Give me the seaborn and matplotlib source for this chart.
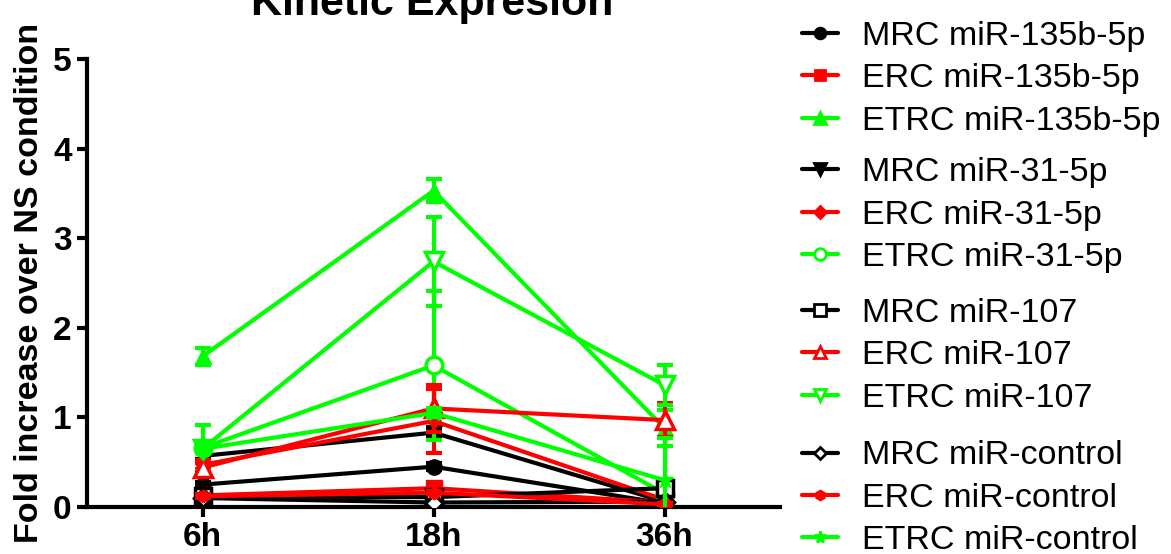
import numpy as np
import pandas as pd
import matplotlib
matplotlib.use("Agg")
import matplotlib.pyplot as plt
from matplotlib.lines import Line2D
import seaborn as sns

sns.set_style("ticks")
plt.rcParams['font.family'] = ['Liberation Sans', 'DejaVu Sans']
plt.rcParams['text.color'] = 'black'
plt.rcParams['axes.labelcolor'] = 'black'
plt.rcParams['axes.edgecolor'] = 'black'
plt.rcParams['xtick.color'] = 'black'
plt.rcParams['ytick.color'] = 'black'

# time points
times = ['6h', '18h', '36h']

# series labels (legend order)
labels = ['MRC miR-135b-5p', 'ERC miR-135b-5p', 'ETRC miR-135b-5p',
          'MRC miR-31-5p', 'ERC miR-31-5p', 'ETRC miR-31-5p',
          'MRC miR-107', 'ERC miR-107', 'ETRC miR-107',
          'MRC miR-control', 'ERC miR-control', 'ETRC miR-control']

# mean values (6h, 18h, 36h)
mrc_135b = [0.25, 0.45, 0.04]
erc_135b = [0.13, 0.21, 0.05]
etrc_135b = [1.68, 3.53, 0.88]
mrc_31 = [0.57, 0.83, 0.06]
erc_31 = [0.47, 0.96, 0.08]
etrc_31 = [0.66, 1.58, 0.15]
mrc_107 = [0.12, 0.11, 0.21]
erc_107 = [0.44, 1.10, 0.97]
etrc_107 = [0.65, 2.74, 1.36]
mrc_ctrl = [0.10, 0.05, 0.06]
erc_ctrl = [0.12, 0.16, 0.03]
etrc_ctrl = [0.65, 1.05, 0.30]

# error (SEM)
mrc_135b_err = [0.03, 0.04, 0.01]
erc_135b_err = [0.03, 0.03, 0.01]
etrc_135b_err = [0.09, 0.13, 0.20]
mrc_31_err = [0.03, 0.05, 0.01]
erc_31_err = [0.05, 0.36, 0.02]
etrc_31_err = [0.26, 0.83, 0.05]
mrc_107_err = [0.02, 0.02, 0.02]
erc_107_err = [0.05, 0.26, 0.19]
etrc_107_err = [0.05, 0.50, 0.22]
mrc_ctrl_err = [0.01, 0.01, 0.01]
erc_ctrl_err = [0.02, 0.02, 0.01]
etrc_ctrl_err = [0.05, 0.05, 0.47]

means = [mrc_135b, erc_135b, etrc_135b, mrc_31, erc_31, etrc_31,
         mrc_107, erc_107, etrc_107, mrc_ctrl, erc_ctrl, etrc_ctrl]
errs = [mrc_135b_err, erc_135b_err, etrc_135b_err, mrc_31_err, erc_31_err, etrc_31_err,
        mrc_107_err, erc_107_err, etrc_107_err, mrc_ctrl_err, erc_ctrl_err, etrc_ctrl_err]

BLACK, RED, GREEN = '#000000', '#ff0000', '#00ff00'
colors = [BLACK, RED, GREEN] * 4
markers = ['o', 's', '^', 'v', 'D', 'o', 's', '^', 'v', 'D', 'h', '*']
filled = [True, True, True, True, True, False, False, False, False, False, True, True]
msizes = [11, 11, 12, 12, 7, 12, 12, 13, 13, 9, 9, 12]

rows = []
for lab, m, e in zip(labels, means, errs):
    for i, t in enumerate(times):
        rows.append({'series': lab, 'x': i, 'time': t, 'mean': m[i], 'err': e[i]})
df = pd.DataFrame(rows)

fig = plt.figure(figsize=(11.71, 5.54), dpi=100)
ax = fig.add_axes([87 / 1171, 1 - 507 / 554, (780 - 87) / 1171, (507 - 59) / 554])

for k, lab in enumerate(labels):
    d = df[df.series == lab]
    ax.errorbar(d['x'], d['mean'], yerr=d['err'], fmt='none', ecolor=colors[k],
                elinewidth=3, capsize=6, capthick=3, zorder=2 + k * 0.1)
    sns.lineplot(data=d, x='x', y='mean', ax=ax, color=colors[k], lw=3,
                 marker=markers[k], markersize=msizes[k],
                 markerfacecolor=colors[k] if filled[k] else 'white',
                 markeredgecolor=colors[k], markeredgewidth=2.5 if not filled[k] else 1,
                 zorder=2 + k * 0.1, legend=False)

ax.set_xlim(-0.5, 2.5)
ax.set_ylim(0, 5)
ax.set_xticks(range(len(times)))
ax.set_xticklabels(times, fontsize=24, fontweight='bold')
ax.set_yticks([0, 1, 2, 3, 4, 5])
ax.set_yticklabels(['0', '1', '2', '3', '4', '5'], fontsize=24, fontweight='bold')
ax.set_xlabel('')
ax.set_ylabel('Fold increase over NS condition', fontsize=24.5, fontweight='bold', labelpad=6)
for s in ['top', 'right']:
    ax.spines[s].set_visible(False)
for s in ['left', 'bottom']:
    ax.spines[s].set_linewidth(3)
ax.tick_params(axis='both', width=3, length=7, direction='out', pad=4)

fig.text(432 / 1171, 1 - 15 / 554, 'Kinetic Expresion', fontsize=31, fontweight='bold',
         ha='center', va='baseline')

# legend, four groups of three
legend_tops = [0.962, 0.716, 0.462, 0.205]
for g in range(4):
    handles = []
    for k in range(g * 3, g * 3 + 3):
        handles.append(Line2D([0], [0], color=colors[k], lw=3, marker=markers[k],
                              markersize=max(msizes[k] * 0.7, 6),
                              markerfacecolor=colors[k] if filled[k] else 'white',
                              markeredgecolor=colors[k], markeredgewidth=2))
    leg = fig.legend(handles, labels[g * 3:g * 3 + 3], loc='upper left',
                     bbox_to_anchor=(802 / 1171, legend_tops[g]), frameon=False,
                     fontsize=24.5, handlelength=1.06, handletextpad=0.7,
                     labelspacing=0.33, borderaxespad=0, borderpad=0)

fig.savefig('out.png', dpi=100)
